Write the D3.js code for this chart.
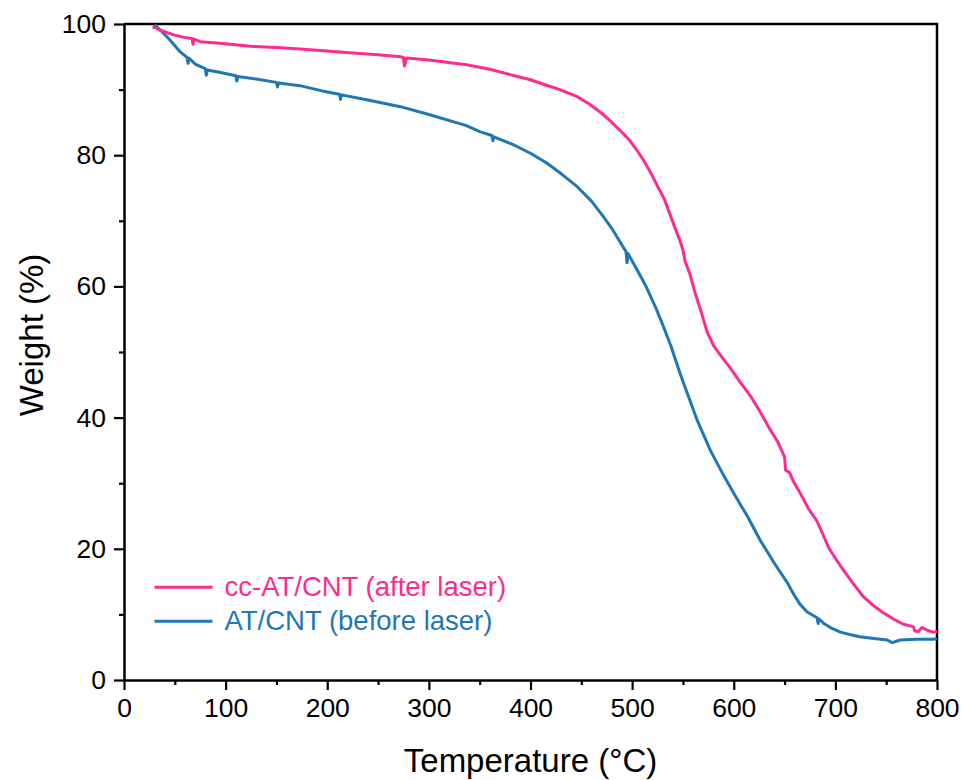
<!DOCTYPE html>
<html>
<head>
<meta charset="utf-8">
<script src="https://cdn.jsdelivr.net/npm/d3@7"></script>
<style>
  body { margin: 0; background: #fff; }
  text { font-family: "Liberation Sans", Arial, sans-serif; fill: #000; }
</style>
</head>
<body>
<div id="chart"></div>
<script>
// TGA data
var tempAfter = [28, 30, 35, 42, 50, 58, 67, 68, 69, 75, 91, 105, 124, 150, 173, 190, 222, 250, 272, 275, 276, 278, 300, 337, 360, 387,
  400, 415, 429, 445, 458, 470, 478, 490, 498, 505, 511, 517, 524, 532, 542, 547, 550, 552, 557, 562, 567, 574, 580, 588, 596,
  606, 616, 626, 635, 643, 650, 651, 655, 658, 665, 674, 682, 694, 705, 717, 727, 737, 747, 757, 767, 777, 778, 782, 785, 792, 796, 800];
var weightAfter = [99.4, 99.5, 99.1, 98.7, 98.3, 98.0, 97.8, 96.9, 97.7, 97.3, 97.1, 96.9, 96.6, 96.4, 96.2, 96.0, 95.6, 95.3, 95.0, 94.9, 93.6, 94.8, 94.5, 93.8, 93.1, 92.0,
  91.5, 90.7, 90.0, 89.0, 87.8, 86.4, 85.3, 83.5, 82.2, 80.7, 79.3, 77.7, 75.6, 73.2, 69.0, 67.0, 65.6, 63.9, 61.8, 59.0, 56.6, 53.0, 51.0, 49.3, 47.7,
  45.5, 43.4, 40.9, 38.4, 36.4, 34.0, 32.0, 31.6, 30.5, 28.6, 26.0, 24.2, 20.0, 17.4, 14.8, 12.8, 11.4, 10.3, 9.3, 8.5, 8.1, 7.5, 7.4, 8.0, 7.5, 7.3, 7.4];

var tempBefore = [30, 35, 45, 55, 62, 63, 64, 70, 80, 81, 82, 95, 110, 111, 112, 130, 150, 151, 152, 173, 195, 212, 213, 214, 240, 272,
  300, 337, 350, 362, 363, 364, 383, 400, 416, 430, 446, 460, 471, 481, 490, 494, 495, 496, 505, 514, 524, 530, 538, 547, 556, 564,
  577, 590, 601, 614, 626, 640, 652, 660, 665, 672, 682, 683, 684, 688, 695, 705, 715, 724, 740, 751, 756, 764, 780, 796, 800];
var weightBefore = [99.9, 99.2, 97.6, 95.8, 94.9, 94.0, 94.8, 93.9, 93.2, 92.2, 93.0, 92.6, 92.1, 91.3, 92.0, 91.6, 91.1, 90.4, 91.0, 90.6, 89.8, 89.3, 88.5, 89.2, 88.4, 87.4,
  86.2, 84.5, 83.6, 83.0, 82.2, 82.8, 81.6, 80.3, 78.8, 77.2, 75.2, 73.0, 70.8, 68.6, 66.3, 65.3, 63.6, 65.0, 62.5, 59.9, 56.5, 54.2, 51.0, 46.8, 43.0, 39.6,
  35.0, 31.2, 28.2, 24.8, 21.3, 17.8, 15.0, 12.8, 11.6, 10.4, 9.5, 8.6, 9.3, 8.7, 8.0, 7.3, 6.9, 6.6, 6.3, 6.1, 5.7, 6.1, 6.2, 6.2, 6.3];

var xTicks = [0, 100, 200, 300, 400, 500, 600, 700, 800];
var yTicks = [0, 20, 40, 60, 80, 100];
var seriesNames = ["cc-AT/CNT (after laser)", "AT/CNT (before laser)"];
var seriesColors = ["#ff2a8f", "#1f77b4"];

// Set up the chart
var svgWidth = 964;
var svgHeight = 780;
var margin = { top: 24, right: 27, bottom: 100, left: 124 };
var width = svgWidth - margin.left - margin.right;
var height = svgHeight - margin.top - margin.bottom;

var svg = d3.select("#chart")
    .append("svg")
    .attr("width", svgWidth)
    .attr("height", svgHeight);

var chartGroup = svg.append("g")
    .attr("transform", `translate(${margin.left}, ${margin.top})`);

var xScale = d3.scaleLinear().domain([0, 800]).range([0, width]);
var yScale = d3.scaleLinear().domain([0, 100]).range([height, 0]);

// minor ticks
chartGroup.append("g")
    .attr("transform", `translate(0, ${height})`)
    .call(d3.axisBottom(xScale).tickValues(d3.range(50, 800, 100)).tickSize(5).tickFormat(""))
    .call(g => g.select(".domain").remove())
    .selectAll("line").attr("stroke-width", 2.2);
chartGroup.append("g")
    .call(d3.axisLeft(yScale).tickValues(d3.range(10, 100, 20)).tickSize(5).tickFormat(""))
    .call(g => g.select(".domain").remove())
    .selectAll("line").attr("stroke-width", 2.2);

// major axes
var xAxis = chartGroup.append("g")
    .attr("transform", `translate(0, ${height})`)
    .call(d3.axisBottom(xScale).tickValues(xTicks).tickSize(10).tickSizeOuter(0).tickPadding(8));
var yAxis = chartGroup.append("g")
    .call(d3.axisLeft(yScale).tickValues(yTicks).tickSize(10).tickSizeOuter(0).tickPadding(8));

[xAxis, yAxis].forEach(function(ax) {
    ax.selectAll("line").attr("stroke-width", 2.2);
    ax.select(".domain").attr("stroke-width", 2.5);
    ax.selectAll("text")
        .style("font-size", "26.5px")
        .style("font-family", "'Liberation Sans', Arial, sans-serif")
        .attr("fill", "#000");
});

// top and right border
chartGroup.append("path")
    .attr("d", `M0,0H${width}V${height}`)
    .attr("fill", "none")
    .attr("stroke", "#000")
    .attr("stroke-width", 2.5);

// curves
var line = d3.line()
    .x(d => xScale(d[0]))
    .y(d => yScale(d[1]));

var seriesData = [
    d3.zip(tempAfter, weightAfter),
    d3.zip(tempBefore, weightBefore)
];

// draw blue first so pink sits on top
[1, 0].forEach(function(i) {
    chartGroup.append("path")
        .datum(seriesData[i])
        .attr("d", line)
        .attr("fill", "none")
        .attr("stroke", seriesColors[i])
        .attr("stroke-width", 3)
        .attr("stroke-linejoin", "round");
});

// legend
var legend = chartGroup.append("g")
    .attr("transform", `translate(${xScale(30)}, ${yScale(14.15)})`);

seriesNames.forEach(function(name, i) {
    var row = legend.append("g").attr("transform", `translate(0, ${i * 34})`);
    row.append("line")
        .attr("x1", 0).attr("x2", 58)
        .attr("stroke", seriesColors[i])
        .attr("stroke-width", 3);
    row.append("text")
        .attr("x", 70)
        .attr("y", 9)
        .style("font-size", "27.5px")
        .style("fill", seriesColors[i])
        .text(name);
});

// axis titles
svg.append("text")
    .attr("transform", `translate(${margin.left + width / 2}, ${svgHeight - 8})`)
    .attr("text-anchor", "middle")
    .style("font-size", "33px")
    .text("Temperature (°C)");

svg.append("text")
    .attr("transform", `translate(43, 335) rotate(-90)`)
    .attr("text-anchor", "middle")
    .style("font-size", "33px")
    .text("Weight (%)");
</script>
</body>
</html>
